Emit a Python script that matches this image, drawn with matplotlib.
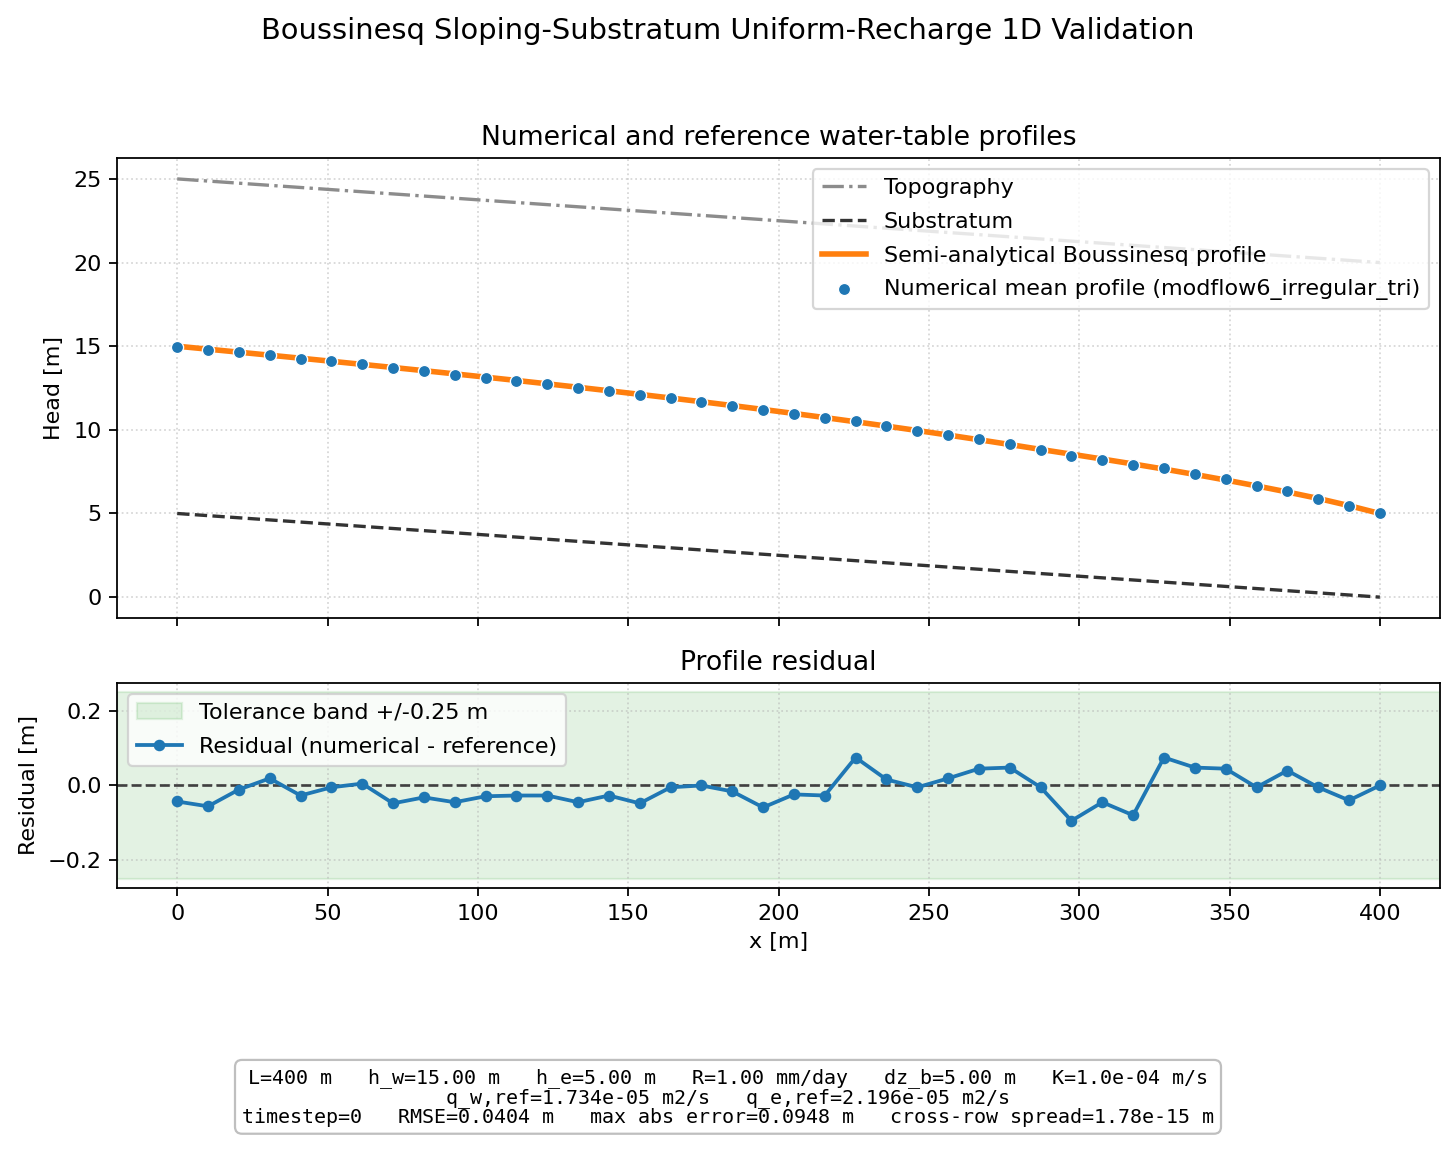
import numpy as np
import matplotlib
matplotlib.use("Agg")
import matplotlib.pyplot as plt

# profile x positions [m]
x = np.linspace(0.0, 400.0, 40)

# semi-analytical Boussinesq head [m]
h_ref = [15.000, 14.822, 14.643, 14.463, 14.282, 14.099, 13.914, 13.727,
         13.538, 13.346, 13.151, 12.953, 12.751, 12.546, 12.336, 12.122,
         11.904, 11.681, 11.453, 11.219, 10.980, 10.734, 10.483, 10.225,
         9.960, 9.689, 9.410, 9.123, 8.829, 8.545, 8.255, 7.960,
         7.655, 7.335, 7.000, 6.650, 6.285, 5.900, 5.470, 5.000]

# residual numerical - reference [m]
resid = [-0.043, -0.056, -0.011, 0.019, -0.027, -0.005, 0.005, -0.048,
         -0.032, -0.045, -0.029, -0.027, -0.027, -0.045, -0.027, -0.048,
         -0.005, 0.000, -0.016, -0.059, -0.024, -0.027, 0.075, 0.016,
         -0.005, 0.019, 0.045, 0.048, -0.005, -0.0948, -0.045, -0.080,
         0.075, 0.048, 0.045, -0.005, 0.040, -0.005, -0.040, 0.000]

x_ends = [0.0, 400.0]
topo = [25.0, 20.0]
substratum = [5.0, 0.0]
tol = 0.25

h_num = np.array(h_ref) + np.array(resid)

info = ("L=400 m   h_w=15.00 m   h_e=5.00 m   R=1.00 mm/day   dz_b=5.00 m   K=1.0e-04 m/s\n"
        "q_w,ref=1.734e-05 m2/s   q_e,ref=2.196e-05 m2/s\n"
        "timestep=0   RMSE=0.0404 m   max abs error=0.0948 m   cross-row spread=1.78e-15 m")

DPI = 160
fig = plt.figure(figsize=(1456/DPI, 1149/DPI), dpi=DPI)
ax1 = fig.add_axes([0.0804, 0.4621, 0.9086, 0.4004])
ax2 = fig.add_axes([0.0804, 0.2272, 0.9086, 0.1784], sharex=ax1)

ax1.plot(x_ends, topo, color="0.55", ls="-.", lw=1.5, label="Topography")
ax1.plot(x_ends, substratum, color="0.2", ls="--", lw=1.5, label="Substratum")
ax1.plot(x, h_ref, color="tab:orange", lw=2.5, label="Semi-analytical Boussinesq profile")
ax1.scatter(x, h_num, s=30, color="tab:blue", edgecolor="white", linewidth=0.6,
            zorder=3, label="Numerical mean profile (modflow6_irregular_tri)")
ax1.set_ylabel("Head [m]")
ax1.set_title("Numerical and reference water-table profiles")
ax1.grid(True, ls=":", alpha=0.5)
ax1.legend(loc="upper right", labelspacing=0.62)
plt.setp(ax1.get_xticklabels(), visible=False)

ax2.axhspan(-tol, tol, color="tab:green", alpha=0.13, label="Tolerance band +/-0.25 m")
ax2.axhline(0.0, color="0.25", ls="--", lw=1.2)
ax2.plot(x, resid, color="tab:blue", marker="o", ms=4.2, lw=1.7,
         label="Residual (numerical - reference)")
ax2.set_xlabel("x [m]")
ax2.set_ylabel("Residual [m]")
ax2.set_title("Profile residual")
ax2.grid(True, ls=":", alpha=0.5)
ax2.legend(loc="upper left", labelspacing=0.62)

fig.suptitle("Boussinesq Sloping-Substratum Uniform-Recharge 1D Validation", fontsize=13, y=0.985)
fig.text(0.5, 0.045, info, ha="center", va="center", family="monospace", fontsize=9,
         linespacing=1.0,
         bbox=dict(boxstyle="round,pad=0.35", facecolor="white", edgecolor="0.75"))

fig.savefig("out.png", dpi=DPI)
